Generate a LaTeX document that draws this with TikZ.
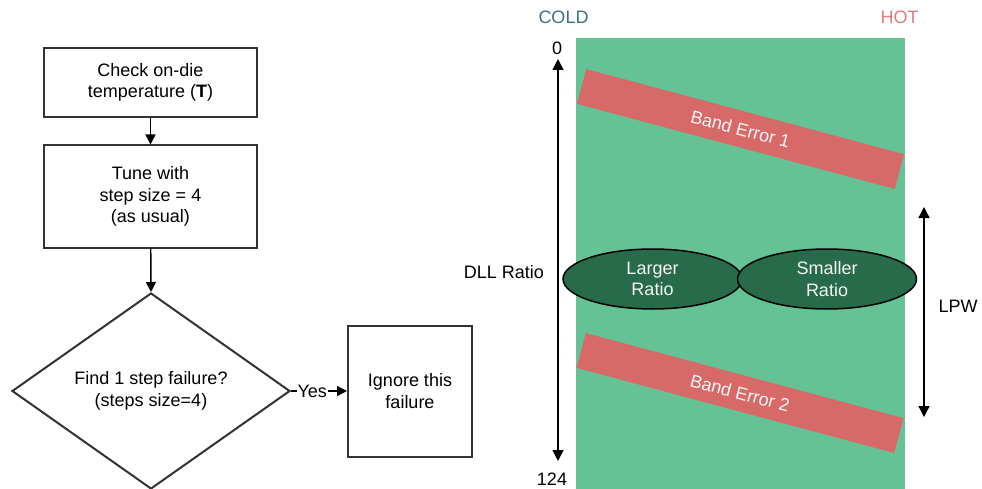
\documentclass[tikz,border=0pt]{standalone}
\usepackage{fontspec}
\setmainfont{Liberation Sans}
\usetikzlibrary{shapes.geometric,arrows.meta}
\definecolor{bggreen}{HTML}{65C294}
\definecolor{bandred}{HTML}{D76A69}
\definecolor{darkgreen}{HTML}{276B4A}
\definecolor{coldc}{HTML}{3B6E8F}
\definecolor{hotc}{HTML}{E07A78}
\definecolor{edgegray}{HTML}{333333}
\tikzset{
  every node/.style={font=\fontsize{18}{21.5}\selectfont, align=center},
  flowbox/.style={draw=edgegray, line width=2pt, rectangle, inner sep=0pt},
  flowarrow/.style={draw=black, line width=1.4pt, -{Triangle[width=10pt,length=10pt]}},
  axisarrow/.style={draw=black, line width=1.4pt, {Triangle[width=11pt,length=11pt]}-{Triangle[width=11pt,length=11pt]}},
  band/.style={fill=bandred, text=white!96!black, rectangle, rotate=-15, minimum width=329pt, minimum height=36pt, inner sep=0pt},
  ratio/.style={ellipse, fill=darkgreen, draw=black, line width=1.5pt, text=white!96!black, minimum width=179pt, minimum height=60pt, inner sep=0pt},
  plainlabel/.style={inner sep=0pt}
}
\begin{document}
\begin{tikzpicture}[x=1pt,y=-1pt]
\useasboundingbox (0,0) rectangle (982,489);
% flowchart
\node[flowbox, minimum width=213pt, minimum height=69pt] (check) at (150.5,82.5) {Check on-die\\temperature (\textbf{T})};
\node[flowbox, minimum width=213pt, minimum height=102pt] (tune) at (150.5,196.5) {Tune with\\step size = 4\\(as usual)};
\node[diamond, draw=edgegray, line width=2pt, shape aspect=1.42, minimum width=278pt, minimum height=196pt, inner sep=0pt] (find) at (151,391) {Find 1 step failure?\\(steps size=4)};
\node[flowbox, minimum width=124pt, minimum height=131pt] (ignore) at (410,391) {Ignore this\\failure};
\draw[flowarrow] (check) -- (tune);
\draw[flowarrow] (tune) -- (find.north);
\draw[flowarrow] (find.east) -- node[pos=0.38, fill=white, inner sep=1pt] {Yes} (ignore.west);
% right chart
\fill[bggreen] (576,38) rectangle (905,489);
\node[plainlabel, text=coldc] (cold) at (563.5,17) {COLD};
\node[plainlabel, text=hotc] (hot) at (899.5,17) {HOT};
\node[band] (band1) at (740.5,129) {Band Error 1};
\node[band] (band2) at (740,393) {Band Error 2};
\node[ratio] (larger) at (652.5,279) {Larger\\Ratio};
\node[ratio] (smaller) at (827,279) {Smaller\\Ratio};
\node[plainlabel] (zero) at (557,48) {0};
\node[plainlabel] (onetwofour) at (552,479) {124};
\node[plainlabel] (dll) at (504,272) {DLL Ratio};
\node[plainlabel] (lpw) at (958,306) {LPW};
\coordinate (ytop) at (558,59);
\coordinate (ybot) at (558,461);
\coordinate (ltop) at (924,207);
\coordinate (lbot) at (924,417);
\draw[axisarrow] (ytop) -- (ybot);
\draw[axisarrow] (ltop) -- (lbot);
\end{tikzpicture}
\end{document}
